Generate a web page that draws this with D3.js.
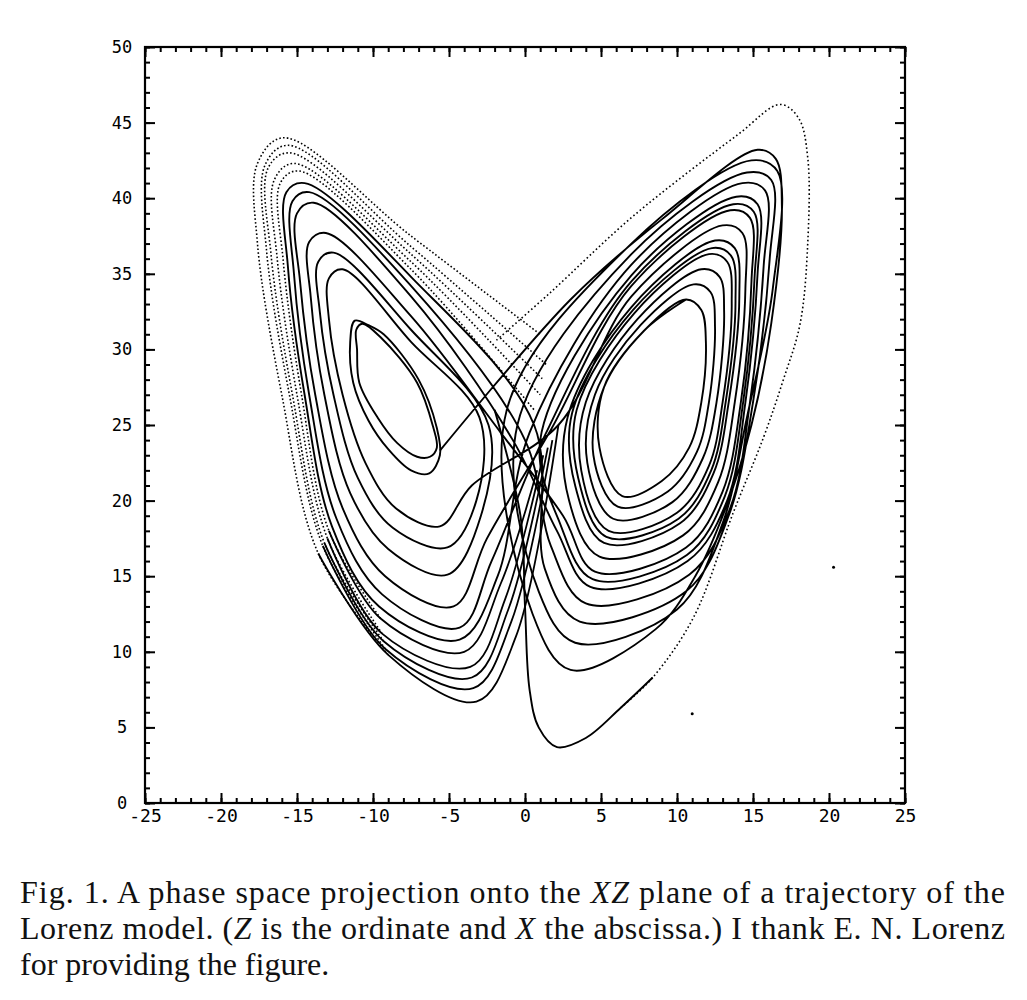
<!DOCTYPE html>
<html><head><meta charset="utf-8">
<script src="https://cdn.jsdelivr.net/npm/d3@7"></script>
<style>body{margin:0;background:#fff}svg{display:block}</style>
</head><body>
<svg id="c" width="1027" height="1000"></svg>
<script>
// ---------- tick data ----------
const xTicks = [-25,-20,-15,-10,-5,0,5,10,15,20,25];
const xTickLabels = ["-25","-20","-15","-10","-5","0","5","10","15","20","25"];
const yTicks = [0,5,10,15,20,25,30,35,40,45,50];
const yTickLabels = ["0","5","10","15","20","25","30","35","40","45","50"];

// ---------- trajectory arcs (X, Z) ----------
// right-lobe arcs, inner to outer: drop, bottom, lower-right..., right edge, corner, top, diagonal, end
const R1 = [[10.6,33.3],[7.8,31.2],[5.2,27.5],[4.9,23.5],[6.4,20.3],[9.0,21.3],[10.8,23.5],[11.6,26.5],[11.9,30.5],[11.6,32.6],[10.6,33.3],[7.8,31.2],[5.2,27.5]];
const R2 = [[4.5,23.0],[6.1,19.6],[9.4,20.6],[11.3,23.2],[12.1,26.5],[12.5,31.5],[12.2,33.8],[11.1,34.3],[7.6,31.6],[4.6,27.0]];
const R3 = [[4.1,22.5],[5.8,18.8],[9.7,19.9],[11.7,22.8],[12.6,26.5],[13.1,32.5],[12.8,34.8],[11.6,35.3],[7.4,32.0],[4.0,26.5]];
const R4 = [[3.7,22.0],[5.5,18.0],[10.0,19.2],[12.1,22.3],[13.0,26.5],[13.6,33.0],[13.3,35.8],[12.1,36.3],[7.2,32.4],[3.4,26.0]];
const R4b = [[3.5,21.5],[5.35,17.6],[10.1,18.8],[12.25,22.0],[13.2,26.5],[13.85,33.2],[13.55,36.2],[12.3,36.7],[7.1,32.6],[3.1,25.8]];
const R5 = [[3.3,21.0],[5.2,17.2],[10.2,18.5],[12.4,21.8],[13.4,26.5],[14.1,33.5],[13.8,36.7],[12.5,37.2],[7.0,32.8],[2.8,25.5]];
const R6 = [[2.9,20.0],[4.9,16.3],[10.4,17.7],[12.7,21.2],[13.8,26.5],[14.5,34.0],[14.3,37.7],[13.0,38.2],[7.0,33.5],[2.2,25.0]];
const R7 = [[2.5,19.0],[4.6,15.3],[10.6,16.9],[13.0,20.6],[14.2,26.5],[14.9,34.5],[14.8,38.7],[13.5,39.2],[7.0,34.2],[1.6,24.5]];
const R7b = [[2.3,18.5],[4.45,14.8],[10.65,16.4],[13.15,20.3],[14.35,26.5],[15.1,34.7],[15.05,39.1],[13.7,39.6],[7.0,34.5],[1.3,24.3]];
const R8 = [[2.1,18.0],[4.3,14.3],[10.7,16.0],[13.3,20.0],[14.5,26.5],[15.3,35.0],[15.3,39.6],[13.9,40.1],[7.0,34.9],[1.0,24.0]];
const R9 = [[1.7,17.0],[4.0,13.2],[10.8,15.1],[13.5,19.5],[14.8,26.5],[15.7,35.5],[15.8,40.5],[14.3,41.0],[7.0,35.6],[0.3,24.5]];
const R10 = [[1.3,15.5],[3.6,12.0],[10.6,14.0],[13.4,19.0],[15.0,26.5],[16.1,36.0],[16.2,41.2],[14.6,41.7],[7.0,36.3],[-0.5,25.0]];
const R11 = [[0.9,14.0],[3.3,10.6],[10.0,12.8],[13.0,18.5],[14.6,25.5],[16.3,34.0],[16.6,41.8],[14.9,42.5],[7.0,37.0],[-1.2,26.0]];
const R12 = [[0.5,12.5],[3.0,8.8],[8.6,11.5],[11.2,15.0],[13.2,19.5],[14.9,25.0],[16.2,31.7],[16.9,39.5],[16.5,42.6],[15.3,43.2],[9.0,38.6],[3.0,33.3],[-5.6,23.3]];

// left-lobe arcs, inner to outer
const L1 = [[-3.5,21.0],[-5.6,18.3],[-8.5,19.5],[-10.5,22.5],[-12.0,27.0],[-12.9,32.0],[-12.9,34.7],[-12.0,35.3],[-7.5,30.5],[-3.0,25.5]];
const L2 = [[-3.2,20.0],[-5.1,16.9],[-8.7,18.2],[-11.0,21.5],[-12.6,27.0],[-13.5,32.5],[-13.6,35.8],[-12.6,36.4],[-7.5,31.3],[-2.4,25.0]];
const L3 = [[-2.9,19.0],[-5.1,15.1],[-9.0,16.8],[-11.5,20.5],[-13.2,27.0],[-14.1,33.5],[-14.2,37.1],[-13.1,37.7],[-7.5,32.2],[-1.6,24.5]];
const L4 = [[-2.5,17.5],[-4.7,13.0],[-9.2,15.0],[-12.0,19.5],[-13.8,27.0],[-14.8,34.5],[-15.0,39.0],[-13.9,39.7],[-7.5,33.5],[-0.8,24.0]];
const L5 = [[-2.2,16.0],[-4.3,11.6],[-9.4,13.8],[-12.4,18.8],[-14.2,27.0],[-15.2,35.0],[-15.3,39.8],[-14.2,40.4],[-7.5,34.2],[0.0,24.0]];
const L6 = [[-1.8,15.0],[-4.3,10.8],[-9.6,13.0],[-12.7,18.3],[-14.5,27.0],[-15.6,35.5],[-15.7,40.4],[-14.5,41.0],[-7.5,34.8],[0.6,25.0]];

// outer left arcs (faint, dotted above their bottoms)
const L7 = [[1.2,23.0],[-1.3,13.5],[-3.6,9.0],[-9.4,11.2],[-13.0,17.5],[-15.0,27.0],[-16.3,36.0],[-16.5,41.2],[-15.2,42.3],[-7.5,35.8],[1.0,27.0]];
const L8 = [[1.8,24.0],[-0.9,12.0],[-3.4,7.6],[-9.2,10.2],[-13.3,17.0],[-15.5,27.0],[-17.0,36.5],[-17.1,42.2],[-15.6,43.5],[-7.5,36.8],[1.4,29.0]];
const L9 = [[2.2,25.0],[-0.6,11.0],[-3.2,6.7],[-9.0,9.8],[-13.6,16.5],[-16.0,27.0],[-17.6,37.0],[-17.6,42.3],[-15.9,44.0],[-7.5,37.5],[1.0,31.0]];
const L10 = [[0.8,22.0],[-1.6,14.5],[-4.0,10.0],[-9.5,12.2],[-12.9,18.0],[-14.7,27.0],[-15.9,35.8],[-16.1,41.0],[-14.9,41.8],[-7.5,35.3],[0.6,26.0]];
const L11 = [[1.5,23.5],[-1.1,12.8],[-3.5,8.3],[-9.3,10.7],[-13.2,17.2],[-15.3,27.0],[-16.7,36.2],[-16.9,42.0],[-15.5,43.0],[-7.5,36.3],[1.2,28.0]];

// inner left orbits (closed)
const L0a = [[-10.7,31.7],[-9.5,30.8],[-7.1,27.8],[-6.05,24.9],[-5.8,23.5],[-6.25,22.9],[-7.1,22.9],[-8.4,23.8],[-9.7,25.5],[-10.9,27.8],[-11.05,30.0],[-11.1,31.3]];
const L0b = [[-11.2,31.9],[-10.3,31.6],[-9.3,31.0],[-7.0,28.0],[-5.8,24.8],[-5.6,23.0],[-6.3,21.8],[-7.5,22.0],[-9.0,23.4],[-10.3,25.3],[-11.3,27.8],[-11.5,30.5]];

// deepest right excursion: solid near the bottom, dotted on the outer edge
const deepSolid = [[-2.0,26.0],[-0.3,19.0],[0.0,13.0],[0.3,7.5],[0.9,5.0],[2.1,3.7],[4.0,4.3],[6.3,6.3],[8.4,8.3]];
const deepDotted = [[6.3,6.3],[8.4,8.3],[11.1,12.3],[13.7,19.2],[15.7,24.2],[17.0,28.0],[18.1,31.7],[18.6,37.0],[18.6,42.7],[18.0,45.3],[16.8,46.2],[14.0,44.2],[7.1,38.8],[1.6,33.7],[-2.0,30.5]];

const strayDots = [[20.3,15.6],[11.0,5.9]];

// order in which the arcs are traversed
const chainOrder = [R1,R2,R3,R4,R4b,R5,R6,L1,L2,L3,R7,L4,R8,R7b,L5,R9,L6,R10,R11,R12];
const outerLeft = [L10,L7,L11,L8,L9];

// ---------- drawing ----------
const svg = d3.select("#c");
const x = d3.scaleLinear().domain([-25,25]).range([145,905]);
const y = d3.scaleLinear().domain([0,50]).range([803,47]);

const line = d3.line().x(d=>x(d[0])).y(d=>y(d[1])).curve(d3.curveCatmullRom.alpha(0.5));
const closedLine = d3.line().x(d=>x(d[0])).y(d=>y(d[1])).curve(d3.curveCatmullRomClosed.alpha(0.5));

const g = svg.append("g").attr("fill","none").attr("stroke","#000");

g.append("path").attr("d", line(chainOrder.flat())).attr("stroke-width",1.9);
[L0a,L0b].forEach(a=>g.append("path").attr("d",closedLine(a)).attr("stroke-width",1.9));
outerLeft.forEach(a=>{
  g.append("path").attr("d",line(a.slice(0,5))).attr("stroke-width",1.8);
  g.append("path").attr("d",line(a.slice(3))).attr("stroke-width",1.6).attr("stroke-dasharray","1.6,2.2");
});
g.append("path").attr("d",line(deepSolid)).attr("stroke-width",1.9);
g.append("path").attr("d",line(deepDotted)).attr("stroke-width",1.6).attr("stroke-dasharray","1.6,2.6");
svg.selectAll("circle.s").data(strayDots).join("circle").attr("class","s")
  .attr("cx",d=>x(d[0])).attr("cy",d=>y(d[1])).attr("r",1.5).attr("fill","#000");

// axes
const minorX = d3.range(-25,26,1), minorY = d3.range(0,51,1);
function styleAxis(sel){ sel.select(".domain").remove(); sel.selectAll(".tick line").attr("stroke","#000").attr("stroke-width",2); }
svg.append("g").attr("transform","translate(0,803)").call(d3.axisBottom(x).tickValues(minorX).tickSize(-5).tickSizeOuter(0).tickFormat("")).call(styleAxis);
svg.append("g").attr("transform","translate(0,803)").call(d3.axisBottom(x).tickValues(xTicks).tickSize(-10).tickSizeOuter(0).tickPadding(6).tickFormat((d,i)=>xTickLabels[i])).call(styleAxis)
  .selectAll("text").attr("font-family","DejaVu Sans Mono").attr("font-size","18px").attr("fill","#000");
svg.append("g").attr("transform","translate(0,47)").call(d3.axisTop(x).tickValues(minorX).tickSize(-5).tickSizeOuter(0).tickFormat("")).call(styleAxis);
svg.append("g").attr("transform","translate(0,47)").call(d3.axisTop(x).tickValues(xTicks).tickSize(-10).tickSizeOuter(0).tickFormat("")).call(styleAxis);
svg.append("g").attr("transform","translate(145,0)").call(d3.axisLeft(y).tickValues(minorY).tickSize(-5).tickSizeOuter(0).tickFormat("")).call(styleAxis);
const yl = svg.append("g").attr("transform","translate(145,0)").call(d3.axisLeft(y).tickValues(yTicks).tickSize(-10).tickSizeOuter(0).tickPadding(23).tickFormat((d,i)=>yTickLabels[i])).call(styleAxis);
yl.selectAll("text").attr("font-family","DejaVu Sans Mono").attr("font-size","17px").attr("fill","#000").attr("text-anchor","middle");
svg.append("g").attr("transform","translate(905,0)").call(d3.axisRight(y).tickValues(minorY).tickSize(-5).tickSizeOuter(0).tickFormat("")).call(styleAxis);
svg.append("g").attr("transform","translate(905,0)").call(d3.axisRight(y).tickValues(yTicks).tickSize(-10).tickSizeOuter(0).tickFormat("")).call(styleAxis);

svg.append("rect").attr("x",x(-25)).attr("y",y(50)).attr("width",x(25)-x(-25)).attr("height",y(0)-y(50))
  .attr("fill","none").attr("stroke","#000").attr("stroke-width",2.2);

// caption
const cap = svg.append("g").attr("font-family","Liberation Serif, Times New Roman, serif").attr("font-size","32px").attr("fill","#111").style("white-space","pre");
const t1 = cap.append("text").attr("x",20).attr("y",903).attr("textLength",985).attr("lengthAdjust","spacing");
t1.append("tspan").text("Fig. 1.  A phase space projection onto the ");
t1.append("tspan").attr("font-style","italic").text("XZ");
t1.append("tspan").text(" plane of a trajectory of the");
const t2 = cap.append("text").attr("x",20).attr("y",939).attr("textLength",985).attr("lengthAdjust","spacing");
t2.append("tspan").text("Lorenz model. (");
t2.append("tspan").attr("font-style","italic").text("Z");
t2.append("tspan").text(" is the ordinate and ");
t2.append("tspan").attr("font-style","italic").text("X");
t2.append("tspan").text(" the abscissa.) I thank E. N. Lorenz");
cap.append("text").attr("x",20).attr("y",975).text("for providing the figure.");
</script>
</body></html>
